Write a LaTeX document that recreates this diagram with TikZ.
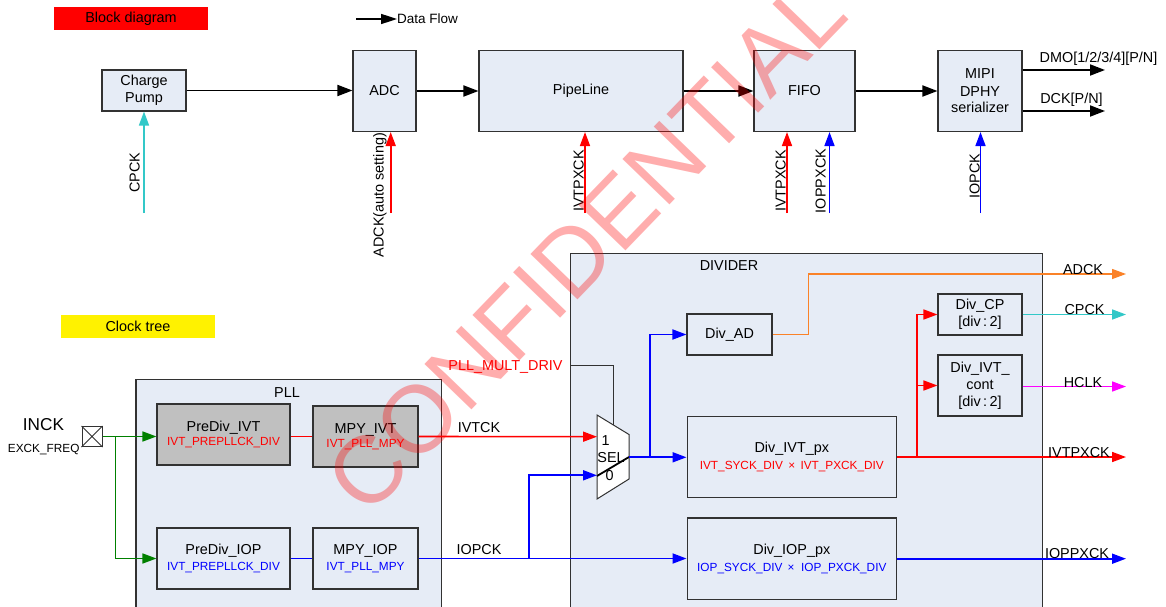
\documentclass[tikz,border=0pt]{standalone}
\usepackage{fontspec}
\setmainfont{Liberation Sans}
\usetikzlibrary{arrows.meta}
\definecolor{boxfill}{RGB}{230,236,246}
\definecolor{grayfill}{RGB}{192,192,192}
\definecolor{bordc}{RGB}{50,50,50}
\definecolor{cpc}{RGB}{50,200,200}
\definecolor{orng}{RGB}{250,130,40}
\definecolor{grn}{RGB}{0,128,0}
\definecolor{blu}{RGB}{0,0,255}
\definecolor{rd}{RGB}{255,0,0}
\definecolor{mag}{RGB}{255,0,255}
\newcommand{\mfont}{\fontsize{14.4}{17}\selectfont}
\newcommand{\smfont}{\fontsize{11.8}{14}\selectfont}
\begin{document}
\begin{tikzpicture}[x=1pt,y=-1pt,
  blk/.style={draw=bordc, line width=1.1pt, fill=boxfill, inner sep=0pt, align=center, font=\mfont},
  gblk/.style={blk, fill=grayfill},
  flow/.style={line width=1.8pt, -{Triangle[length=15pt,width=11pt]}},
  clk/.style={line width=1.6pt, -{Triangle[length=14pt,width=10pt]}},
  lbl/.style={font=\mfont, inner sep=0pt, anchor=base},
  vlbl/.style={lbl, rotate=90},
  cont/.style={draw=bordc, line width=1.1pt, fill=boxfill}
]
\useasboundingbox (0,0) rectangle (1166,607);
\clip (0,0) rectangle (1166,607);
\fill[white] (0,0) rectangle (1166,607);

% ---------- titles ----------
\node[fill=rd, minimum width=154pt, minimum height=23pt, inner sep=0pt, font=\mfont] (bd) at (131,18.5) {Block diagram};
\node[fill=yellow, minimum width=154pt, minimum height=22.5pt, inner sep=0pt, font=\mfont] (ct) at (138,326.5) {Clock tree};
\coordinate (lgs) at (356,19);
\coordinate (lge) at (397,19);
\draw[line width=1.6pt, -{Triangle[length=16pt,width=10pt]}] (lgs) -- (lge);
\node[lbl, anchor=base west, font=\fontsize{13.5}{16}\selectfont] (lgt) at (397,24) {Data Flow};

% ---------- block diagram ----------
\node[blk, minimum width=84pt, minimum height=41pt] (chg) at (144,90.5) {Charge\\Pump};
\node[blk, minimum width=63pt, minimum height=81pt] (adc) at (384.5,91) {ADC};
\node[blk, minimum width=204pt, minimum height=81pt] (pipe) at (581,91) {PipeLine};
\node[blk, minimum width=101pt, minimum height=81pt] (fifo) at (804.5,91) {FIFO};
\node[blk, minimum width=84pt, minimum height=81pt] (mipi) at (980,91) {MIPI\\[0.5pt]DPHY\\[-0.5pt]serializer};

\draw[flow] (chg.east) -- (chg.east -| adc.west);
\draw[flow] (adc.east) -- (pipe.west);
\draw[flow] (pipe.east) -- (fifo.west);
\draw[flow] (fifo.east) -- (mipi.west);
\coordinate (dmo) at (1105,70);
\coordinate (dck) at (1105,111);
\draw[flow] (mipi.east |- dmo) -- (dmo);
\draw[flow] (mipi.east |- dck) -- (dck);
\node[lbl] (dmol) at (1098.5,63) {DMO[1/2/3/4][P/N]};
\node[lbl] (dckl) at (1071.5,104) {DCK[P/N]};

\coordinate (cpin) at (144,213);
\coordinate (adin) at (390.7,213);
\coordinate (pin) at (585,213);
\coordinate (fin1) at (787,213);
\coordinate (fin2) at (829.5,213);
\coordinate (min) at (980.5,213);
\draw[clk, cpc] (cpin) -- (cpin |- chg.south);
\draw[clk, rd] (adin) -- (adin |- adc.south);
\draw[clk, rd] (pin) -- (pin |- pipe.south);
\draw[clk, rd] (fin1) -- (fin1 |- fifo.south);
\draw[clk, blu] (fin2) -- (fin2 |- fifo.south);
\draw[clk, blu] (min) -- (min |- mipi.south);
\node[vlbl] (l1) at (139.5,172.5) {CPCK};
\node[vlbl] (l2) at (383.5,195) {ADCK(auto setting)};
\node[vlbl] (l3) at (583.5,181) {IVTPXCK};
\node[vlbl] (l4) at (785.5,181) {IVTPXCK};
\node[vlbl] (l5) at (825.5,181) {IOPPXCK};
\node[vlbl] (l6) at (979.5,176) {IOPCK};

% ---------- clock tree: containers ----------
\draw[cont] (136,379.5) rectangle (441.5,620);
\node[lbl] (pllt) at (287,397) {PLL};
\draw[cont] (570.5,253.3) rectangle (1042.7,620);
\node[lbl] (divt) at (729,270.7) {DIVIDER};

% ---------- PLL blocks ----------
\node[gblk, minimum width=133pt, minimum height=61pt] (pdi) at (223.5,434.5) {PreDiv\_IVT\\[-2.3pt]{\smfont\color{rd}IVT\_PREPLLCK\_DIV}};
\node[gblk, minimum width=105pt, minimum height=61pt] (mpi) at (365.5,436.5) {MPY\_IVT\\[-2.6pt]{\smfont\color{rd}IVT\_PLL\_MPY}};
\node[blk, minimum width=133pt, minimum height=61pt] (pdo) at (223.5,558.5) {PreDiv\_IOP\\[-1pt]{\smfont\color{blu}IVT\_PREPLLCK\_DIV}};
\node[blk, minimum width=105pt, minimum height=61pt] (mpo) at (365.5,558.5) {MPY\_IOP\\[-1pt]{\smfont\color{blu}IVT\_PLL\_MPY}};

\node[draw=bordc, line width=1pt, fill=white, minimum size=20pt, inner sep=0pt] (inck) at (92,436.5) {};
\draw[bordc, line width=1pt] (inck.north west) -- (inck.south east) (inck.north east) -- (inck.south west);
\node[lbl, font=\fontsize{17.2}{20}\selectfont] (inckl) at (43.5,430) {INCK};
\node[lbl, font=\smfont] (exl) at (43.7,452) {EXCK\_FREQ};

\coordinate (gb) at (115.5,436.5);
\draw[clk, grn] (inck.east) -- (inck.east -| pdi.west);
\draw[clk, grn] (gb) |- (pdo.west);
\draw[rd, line width=1.6pt] (pdi.east |- mpi.west) -- (mpi.west);
\draw[blu, line width=1.8pt] (pdo.east) -- (mpo.west);

% ---------- divider blocks ----------
\node[blk, minimum width=85pt, minimum height=41pt] (dad) at (729.5,334.5) {Div\_AD};
\node[blk, minimum width=209.5pt, minimum height=81.5pt] (dvi) at (791.8,457) {Div\_IVT\_px\\[-0.5pt]{\smfont\color{rd}IVT\_SYCK\_DIV \,×\, IVT\_PXCK\_DIV}};
\node[blk, minimum width=209.5pt, minimum height=81.5pt] (dvo) at (791.8,558.7) {Div\_IOP\_px\\[-0.5pt]{\smfont\color{blu}IOP\_SYCK\_DIV \,×\ \ IOP\_PXCK\_DIV}};
\node[blk, minimum width=84pt, minimum height=41pt] (dcp) at (980,314.5) {Div\_CP\\{}[div\,:\,2]};
\node[blk, minimum width=84pt, minimum height=61pt] (dct) at (980,385.5) {Div\_IVT\_\\cont\\{}[div\,:\,2]};

% ---------- mux ----------
\coordinate (mux1) at (597,436.7);
\coordinate (mux0) at (597,475.3);
\coordinate (muxo) at (629,457.3);
\coordinate (muxs) at (613,424.5);
\draw[draw=bordc, fill=white, line width=1pt] (597,415) -- (629,434.5) -- (629,479) -- (597,499) -- cycle;
\node[lbl] (m1) at (605.5,445) {1};
\node[lbl] (ms) at (611,462.7) {SEL};
\node[lbl] (m0) at (609.7,480) {0};
\draw[black, line width=1.8pt] (597,476) -- (629,457);

\coordinate (pmd) at (570.5,365);
\draw[bordc, line width=1pt] (pmd) -| (muxs);
\node[lbl, text=rd] (pmdl) at (505.5,370.7) {PLL\_MULT\_DRIV};

\draw[clk, rd] (mpi.east) -- (mux1);
\node[lbl] (ivtckl) at (479,432) {IVTCK};
\coordinate (iopb) at (528.7,558.5);
\draw[clk, blu, line width=1.8pt] (mpo.east) -- (mpo.east -| dvo.west);
\draw[clk, blu, line width=1.8pt] (iopb) |- (mux0);
\node[lbl] (iopckl) at (479,554) {IOPCK};

\coordinate (mb) at (650,457.3);
\draw[clk, blu, line width=1.8pt] (muxo) -- (muxo -| dvi.west);
\draw[clk, blu, line width=1.8pt] (mb) |- (dad.west);

\coordinate (adout) at (1126,274);
\coordinate (cpout) at (1126,314.5);
\coordinate (hcout) at (1126,386.5);
\coordinate (ivout) at (1126,457);
\coordinate (ioout) at (1126,558.7);
\coordinate (ob) at (808.3,334.5);
\coordinate (rb) at (916.7,457);

\draw[orng, line width=1.3pt, -{Triangle[length=14pt,width=10pt]}] (dad.east) -- (ob) |- (adout);
\draw[clk, rd] (dvi.east) -- (ivout);
\draw[clk, rd] (rb) |- (dcp.west);
\draw[clk, rd] (rb |- dct.west) -- (dct.west);
\draw[clk, cpc] (dcp.east) -- (cpout);
\draw[clk, mag] (dct.east |- hcout) -- (hcout);
\draw[clk, blu, line width=1.8pt] (dvo.east) -- (ioout);

\node[lbl] (adl) at (1083,274) {ADCK};
\node[lbl] (cpl) at (1084.5,314) {CPCK};
\node[lbl] (hcl) at (1083,387.7) {HCLK};
\node[lbl] (ivl) at (1079,457) {IVTPXCK};
\node[lbl] (iol) at (1077,558.7) {IOPPXCK};

% ---------- watermark ----------
\node[rotate=46, text=rd, text opacity=0.32, inner sep=0pt, font=\fontsize{95}{95}\selectfont] (wm) at (586,245) {CONFIDENTIAL};
\end{tikzpicture}
\end{document}
